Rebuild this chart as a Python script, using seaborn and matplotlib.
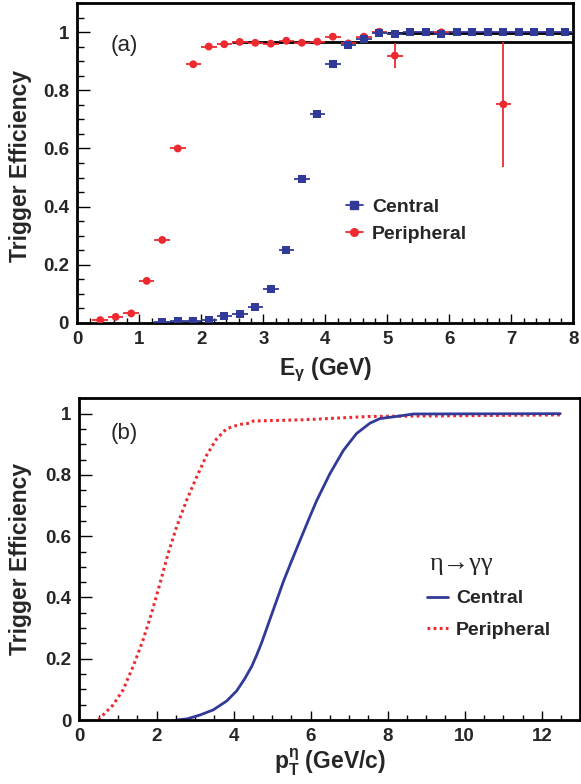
import numpy as np
import pandas as pd
import matplotlib as mpl
import matplotlib.pyplot as plt
from matplotlib.lines import Line2D
from matplotlib.ticker import MultipleLocator, FuncFormatter
import seaborn as sns

# (a) single photon trigger efficiency, bin centres in GeV
central_e = [1.37, 1.62, 1.87, 2.12, 2.37, 2.62, 2.87, 3.12, 3.37, 3.62, 3.87, 4.12,
             4.37, 4.62, 4.87, 5.12, 5.37, 5.62, 5.87, 6.12, 6.37, 6.62, 6.87, 7.12,
             7.37, 7.62, 7.87]
central_eff = [0.003, 0.005, 0.007, 0.009, 0.023, 0.031, 0.055, 0.116, 0.251, 0.495, 0.719, 0.891,
               0.955, 0.978, 0.997, 0.993, 1.0, 1.0, 0.995, 1.0, 1.0, 1.0, 1.0, 1.0,
               1.0, 1.0, 1.0]

periph_e = [0.37, 0.62, 0.87, 1.12, 1.37, 1.62, 1.87, 2.12, 2.37, 2.62, 2.87, 3.12,
            3.37, 3.62, 3.87, 4.12, 4.37, 4.62, 4.87, 5.12, 5.87, 6.87]
periph_eff = [0.009, 0.02, 0.032, 0.144, 0.285, 0.600, 0.890, 0.951, 0.959, 0.967, 0.964, 0.961,
              0.971, 0.964, 0.968, 0.985, 0.962, 0.985, 1.002, 0.920, 1.0, 0.752]
periph_err = [0, 0, 0, 0, 0, 0, 0, 0, 0, 0, 0, 0,
              0, 0, 0, 0, 0, 0, 0, 0.043, 0, 0.215]
bin_half = 0.125

# plateau fits drawn in (a)
fit_level = [0.965, 0.999]
fit_start = [2.5, 5.0]
fit_end = [8.0, 8.0]

# (b) eta -> gamma gamma efficiency vs pT
central_pt = [2.52, 2.8, 3.12, 3.47, 3.82, 4.08, 4.29, 4.47, 4.60, 4.73, 4.86, 4.99,
              5.12, 5.29, 5.46, 5.72, 6.0, 6.16, 6.5, 6.85, 7.19, 7.54, 7.8, 8.23,
              8.67, 12.48]
central_curve = [0.0, 0.004, 0.016, 0.033, 0.062, 0.095, 0.135, 0.175, 0.212, 0.253, 0.299, 0.345,
                 0.391, 0.451, 0.505, 0.585, 0.670, 0.717, 0.804, 0.880, 0.935, 0.969, 0.984, 0.991,
                 0.999, 1.0]
periph_pt = [0.5, 0.53, 0.87, 1.13, 1.39, 1.65, 1.87, 2.09, 2.30, 2.52, 2.78, 3.04,
             3.30, 3.56, 3.82, 4.16, 4.42, 4.51, 5.81, 7.54, 12.48]
periph_curve = [0.0, 0.006, 0.049, 0.098, 0.174, 0.261, 0.348, 0.446, 0.543, 0.630, 0.717, 0.793,
                0.864, 0.918, 0.951, 0.965, 0.969, 0.976, 0.980, 0.991, 0.996]

blue = '#313a98'
red = '#ec2a2f'

sns.set_theme(style='ticks')
plt.rcParams['font.family'] = ['Liberation Sans', 'DejaVu Sans']
plt.rcParams['mathtext.default'] = 'regular'
mpl.rcParams['axes.unicode_minus'] = False

fig = plt.figure(figsize=(5.81, 7.84), dpi=100)
ax1 = fig.add_axes([0.133, 0.5884, 0.854, 0.4074])
ax2 = fig.add_axes([0.1368, 0.0816, 0.862, 0.4103])

df_c = pd.DataFrame({'E': central_e, 'eff': central_eff})
df_p = pd.DataFrame({'E': periph_e, 'eff': periph_eff, 'err': periph_err})

# fit lines under the points
ax1.hlines(fit_level, fit_start, fit_end, colors='black', lw=2, zorder=1)

ax1.errorbar(df_p['E'], df_p['eff'], xerr=bin_half, yerr=df_p['err'], fmt='none',
             ecolor=red, elinewidth=1.3, capsize=0, zorder=2)
sns.scatterplot(data=df_p, x='E', y='eff', ax=ax1, marker='o', s=32, color=red,
                edgecolor='none', zorder=3, legend=False)
ax1.errorbar(df_c['E'], df_c['eff'], xerr=bin_half, fmt='none',
             ecolor=blue, elinewidth=1.3, capsize=0, zorder=4)
sns.scatterplot(data=df_c, x='E', y='eff', ax=ax1, marker='s', s=34, color=blue,
                edgecolor='none', zorder=5, legend=False)

ax1.set_xlim(0, 8)
ax1.set_ylim(0, 1.1)

df_cb = pd.DataFrame({'pt': central_pt, 'eff': central_curve})
df_pb = pd.DataFrame({'pt': periph_pt, 'eff': periph_curve})
sns.lineplot(data=df_pb, x='pt', y='eff', ax=ax2, color=red, lw=2.2,
             linestyle=(0, (0.9, 1.1)), estimator=None, sort=False)
sns.lineplot(data=df_cb, x='pt', y='eff', ax=ax2, color=blue, lw=2, estimator=None, sort=False)
ax2.set_xlim(0, 13)
ax2.set_ylim(0, 1.05)

fmt = FuncFormatter(lambda v, p: '%g' % v)
for ax, xmaj, xmin in [(ax1, 1, 0.2), (ax2, 2, 0.5)]:
    ax.xaxis.set_major_locator(MultipleLocator(xmaj))
    ax.xaxis.set_minor_locator(MultipleLocator(xmin))
    ax.yaxis.set_major_locator(MultipleLocator(0.2))
    ax.yaxis.set_minor_locator(MultipleLocator(0.05))
    ax.xaxis.set_major_formatter(fmt)
    ax.yaxis.set_major_formatter(fmt)
    ax.tick_params(axis='both', which='both', direction='in', width=1, color='black',
                   labelsize=13.5, top=False, right=False)
    ax.tick_params(axis='y', which='major', length=9.5, pad=6)
    ax.tick_params(axis='y', which='minor', length=5)
    ax.tick_params(axis='x', which='major', length=6.5, pad=6)
    ax.tick_params(axis='x', which='minor', length=3.5)
    for lab in ax.get_xticklabels() + ax.get_yticklabels():
        lab.set_fontweight('bold')
    for s in ax.spines.values():
        s.set_linewidth(2)
        s.set_color('black')
        s.set_visible(True)
    ax.set_ylabel('Trigger Efficiency', fontsize=16.5, fontweight='bold')
    ax.grid(False)

ax1.yaxis.set_label_coords(-0.092, 0.49)
ax2.yaxis.set_label_coords(-0.095, 0.5)
ax1.set_xlabel(r'E$_{\gamma}$ (GeV)', fontsize=16.5, fontweight='bold')
ax2.set_xlabel(r'p$_T^{\eta}$ (GeV/c)', fontsize=16.5, fontweight='bold')
ax1.xaxis.set_label_coords(0.5, -0.102)
ax2.xaxis.set_label_coords(0.5, -0.082)

ax1.text(0.54, 0.956, '(a)', fontsize=16, ha='left', va='center')
ax2.text(0.8, 0.935, '(b)', fontsize=16, ha='left', va='center')

h_a = [Line2D([], [], color=blue, marker='s', markersize=6, lw=1.3),
       Line2D([], [], color=red, marker='o', markersize=5.5, lw=1.3)]
ax1.legend(h_a, ['Central', 'Peripheral'], loc='upper left', bbox_to_anchor=(0.541, 0.39),
           frameon=False, borderpad=0, borderaxespad=0, handlelength=0.9, handletextpad=0.45,
           labelspacing=0.5, prop={'weight': 'bold', 'size': 14})

ax2.text(9.1, 0.51, 'η→γγ', fontsize=19, ha='left', va='center',
         family=['Liberation Serif', 'DejaVu Serif'])
h_b = [Line2D([], [], color=blue, lw=2),
       Line2D([], [], color=red, lw=2.2, linestyle=(0, (0.9, 1.1)))]
ax2.legend(h_b, ['Central', 'Peripheral'], loc='upper left', bbox_to_anchor=(0.694, 0.405),
           frameon=False, borderpad=0, borderaxespad=0, handlelength=1.1, handletextpad=0.4,
           labelspacing=0.7, prop={'weight': 'bold', 'size': 14})

fig.savefig('out.png', dpi=100)
